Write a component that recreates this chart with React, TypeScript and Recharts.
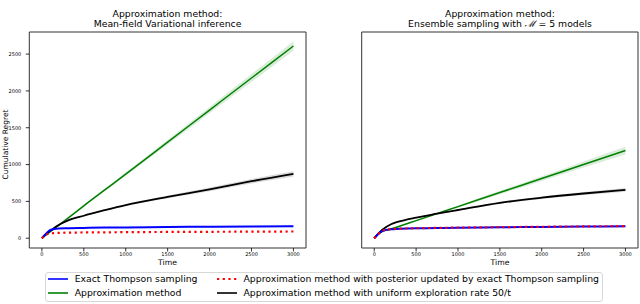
import { ComposedChart, Line, Area, XAxis, YAxis, ReferenceArea } from 'recharts';

const TIME = [0, 50, 100, 200, 300, 500, 750, 1000, 1500, 2000, 2500, 3000];

// left panel: mean-field variational inference
const VI_EXACT = [0, 60, 112, 132, 136, 140, 144, 147, 152, 156, 160, 163];
const VI_APPROX = [0, 44, 88, 175, 262, 440, 655, 870, 1305, 1740, 2175, 2610];
const VI_APPROX_SD = [0, 3, 5, 8, 10, 14, 18, 22, 32, 42, 54, 66];
const VI_POSTERIOR = [0, 45, 65, 72, 75, 78, 80, 82, 85, 87, 89, 91];
const VI_UNIFORM = [0, 55, 100, 180, 235, 305, 380, 450, 562, 663, 774, 874];
const VI_UNIFORM_SD = [0, 2, 3, 5, 6, 8, 10, 12, 18, 24, 30, 36];

// right panel: ensemble sampling, M = 5
const ES_EXACT = [0, 60, 100, 122, 127, 134, 138, 142, 148, 153, 158, 163];
const ES_APPROX = [0, 55, 92, 124, 163, 239, 334, 429, 620, 810, 1001, 1190];
const ES_APPROX_SD = [0, 2, 3, 5, 6, 9, 12, 16, 24, 32, 42, 52];
const ES_POSTERIOR = [0, 58, 102, 124, 129, 136, 140, 144, 150, 155, 160, 165];
const ES_UNIFORM = [0, 65, 118, 190, 228, 280, 333, 383, 480, 550, 607, 657];
const ES_UNIFORM_SD = [0, 2, 3, 4, 5, 6, 8, 10, 14, 18, 22, 26];

const X_TICKS = [0, 500, 1000, 1500, 2000, 2500, 3000];
const Y_TICKS = [0, 500, 1000, 1500, 2000, 2500];
const X_DOMAIN = [-150, 3150];
const Y_DOMAIN = [-133, 2800];

const FONT = '"DejaVu Sans", sans-serif';
const BLUE = '#0000ff';
const GREEN = '#008000';
const RED = '#ff0000';

function build(exact: number[], approx: number[], approxSd: number[], post: number[], unif: number[], unifSd: number[]) {
    return TIME.map((t, i) => ({
        t,
        exact: exact[i],
        approx: approx[i],
        approxBand: [approx[i] - approxSd[i], approx[i] + approxSd[i]],
        post: post[i],
        unif: unif[i],
        unifBand: [unif[i] - unifSd[i], unif[i] + unifSd[i]],
    }));
}

const viData = build(VI_EXACT, VI_APPROX, VI_APPROX_SD, VI_POSTERIOR, VI_UNIFORM, VI_UNIFORM_SD);
const esData = build(ES_EXACT, ES_APPROX, ES_APPROX_SD, ES_POSTERIOR, ES_UNIFORM, ES_UNIFORM_SD);

function Panel({ data, left, showYLabels }: { data: any[]; left: number; showYLabels: boolean }) {
    const tickStyle = { fontSize: 5, fill: '#000', fontFamily: FONT };
    return (
        <div style={{ position: 'absolute', left, top: 0 }}>
            <ComposedChart
                width={320}
                height={304}
                data={data}
                margin={showYLabels ? { top: 32, right: 14, bottom: 0, left: 0 } : { top: 32, right: 2, bottom: 0, left: 41.7 }}
            >
                <XAxis
                    dataKey="t"
                    type="number"
                    domain={X_DOMAIN}
                    ticks={X_TICKS}
                    allowDataOverflow
                    height={56}
                    axisLine={false}
                    tickSize={3.5}
                    tickMargin={1}
                    tickLine={{ stroke: '#000', strokeWidth: 0.8 }}
                    tick={tickStyle}
                    interval={0}
                />
                <YAxis
                    type="number"
                    domain={Y_DOMAIN}
                    ticks={Y_TICKS}
                    allowDataOverflow
                    width={showYLabels ? 29.3 : 0}
                    axisLine={false}
                    tickSize={3.5}
                    tickMargin={4.5}
                    tickLine={{ stroke: '#000', strokeWidth: 0.8 }}
                    tick={tickStyle}
                    tickFormatter={showYLabels ? (v: number) => String(v) : () => ''}
                    interval={0}
                />
                <Area dataKey="approxBand" type="monotone" stroke="none" fill={GREEN} fillOpacity={0.15} isAnimationActive={false} />
                <Line dataKey="approx" type="monotone" stroke={GREEN} strokeWidth={1.5} dot={false} isAnimationActive={false} />
                <Area dataKey="unifBand" type="monotone" stroke="none" fill="#000" fillOpacity={0.15} isAnimationActive={false} />
                <Line dataKey="unif" type="monotone" stroke="#000" strokeWidth={1.8} dot={false} isAnimationActive={false} />
                <Line dataKey="exact" type="monotone" stroke={BLUE} strokeWidth={2} dot={false} isAnimationActive={false} />
                <Line dataKey="post" type="monotone" stroke={RED} strokeWidth={2.2} strokeDasharray="2.2 3.5" dot={false} isAnimationActive={false} />
                <ReferenceArea x1={X_DOMAIN[0]} x2={X_DOMAIN[1]} y1={Y_DOMAIN[0]} y2={Y_DOMAIN[1]} fill="none" stroke="#333" strokeWidth={1} ifOverflow="visible" />
            </ComposedChart>
        </div>
    );
}

const text: React.CSSProperties = { position: 'absolute', fontFamily: FONT, color: '#000', whiteSpace: 'nowrap' };

function LegendItem({ x, y, color, dotted, label }: { x: number; y: number; color: string; dotted?: boolean; label: string }) {
    return (
        <>
            <svg style={{ position: 'absolute', left: x, top: y - 3 }} width={20} height={6}>
                <line x1={0} y1={3} x2={20} y2={3} stroke={color} strokeWidth={dotted ? 2.2 : 1.6} strokeDasharray={dotted ? '2.2 3.5' : undefined} />
            </svg>
            <div style={{ ...text, left: x + 27, top: y - 6, fontSize: 9.3, lineHeight: '12px' }}>{label}</div>
        </>
    );
}

export default function App() {
    return (
        <div style={{ position: 'fixed', left: 0, top: 0, width: 640, height: 304, background: '#fff', overflow: 'hidden' }}>
            <Panel data={viData} left={0} showYLabels />
            <Panel data={esData} left={320} showYLabels={false} />

            <div style={{ ...text, left: 0, width: 335, top: 9, textAlign: 'center', fontSize: 9.3, lineHeight: '10px' }}>
                Approximation method:<br />Mean-field Variational inference
            </div>
            <div style={{ ...text, left: 400, width: 200, top: 9, textAlign: 'center', fontSize: 9.3, lineHeight: '10px' }}>
                Approximation method:<br />Ensemble sampling with <i style={{ fontFamily: 'serif' }}>ℳ</i> = 5 models
            </div>

            <div style={{ ...text, left: 117.5, width: 100, top: 257, textAlign: 'center', fontSize: 7.7, lineHeight: '11px' }}>Time</div>
            <div style={{ ...text, left: 450, width: 100, top: 257, textAlign: 'center', fontSize: 7.7, lineHeight: '11px' }}>Time</div>
            <div style={{ ...text, left: 5 - 50, width: 100, top: 144 - 5.5, textAlign: 'center', fontSize: 7.5, lineHeight: '11px', transform: 'rotate(-90deg)' }}>
                Cumulative Regret
            </div>

            <div style={{ position: 'absolute', left: 45, top: 272, width: 558, height: 30, border: '1px solid #d8d8d8', borderRadius: 3, boxSizing: 'border-box' }} />
            <LegendItem x={47.7} y={279.3} color={BLUE} label="Exact Thompson sampling" />
            <LegendItem x={47.7} y={293} color={GREEN} label="Approximation method" />
            <LegendItem x={216.5} y={279.3} color={RED} dotted label="Approximation method with posterior updated by exact Thompson sampling" />
            <LegendItem x={216.5} y={293} color="#000" label="Approximation method with uniform exploration rate 50/t" />
        </div>
    );
}
